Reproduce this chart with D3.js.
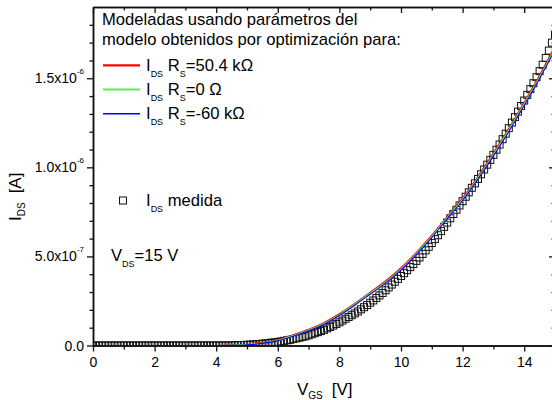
<!DOCTYPE html>
<html><head><meta charset="utf-8">
<script src="https://cdn.jsdelivr.net/npm/d3@7"></script>
<style>
body{margin:0;background:#fff}
svg{display:block}
text{font-family:Arial,"Liberation Sans",sans-serif;fill:#000}
</style></head><body>
<svg id="c" width="552" height="400"></svg>
<script>
// ---------- data (current in microamps, voltage in V) ----------
const vgsMeasured = [0,0.1,0.2,0.3,0.4,0.5,0.6,0.7,0.8,0.9,1,1.1,1.2,1.3,1.4,1.5,1.6,1.7,1.8,1.9,2,2.1,2.2,2.3,2.4,2.5,2.6,2.7,2.8,2.9,3,3.1,3.2,3.3,3.4,3.5,3.6,3.7,3.8,3.9,4,4.1,4.2,4.3,4.4,4.5,4.6,4.7,4.8,4.9,5,5.1,5.2,5.3,5.4,5.5,5.6,5.7,5.8,5.9,6,6.1,6.2,6.3,6.4,6.5,6.6,6.7,6.8,6.9,7,7.1,7.2,7.3,7.4,7.5,7.6,7.7,7.8,7.9,8,8.1,8.2,8.3,8.4,8.5,8.6,8.7,8.8,8.9,9,9.1,9.2,9.3,9.4,9.5,9.6,9.7,9.8,9.9,10,10.1,10.2,10.3,10.4,10.5,10.6,10.7,10.8,10.9,11,11.1,11.2,11.3,11.4,11.5,11.6,11.7,11.8,11.9,12,12.1,12.2,12.3,12.4,12.5,12.6,12.7,12.8,12.9,13,13.1,13.2,13.3,13.4,13.5,13.6,13.7,13.8,13.9,14,14.1,14.2,14.3,14.4,14.5,14.6,14.7,14.8,14.9,15];
const idsMeasured = [0,0,0,0,0,0,0,0,0,0,0,0,0,0,0,0,0,0,0,0,0,0,0,0,0,0,0,0,0,0,0,0,0,0,0,0,0,0,0,0,0,0,0,0,0,
 0.001,0.0015,0.002,0.0025,0.003,0.004,0.005,0.006,0.007,0.0085,0.010,0.012,0.014,0.016,0.018,0.020,0.023,0.026,0.029,0.032,0.036,0.040,0.044,0.048,0.052,
 0.057,0.063,0.069,0.075,0.081,0.088,0.096,0.104,0.112,0.121,0.130,0.140,0.150,0.160,0.170,0.180,0.191,0.203,0.215,0.227,
 0.240,0.253,0.267,0.281,0.295,0.310,0.326,0.342,0.358,0.374,0.390,0.406,0.423,0.440,0.457,0.475,0.494,0.514,0.534,0.554,
 0.575,0.597,0.619,0.642,0.666,0.690,0.714,0.738,0.762,0.786,0.810,0.835,0.860,0.885,0.910,0.935,0.961,0.988,1.015,1.042,
 1.070,1.099,1.128,1.158,1.189,1.220,1.251,1.282,1.313,1.344,1.375,1.407,1.439,1.472,1.506,1.540,1.576,1.614,1.655,1.700,1.745];

const vgsModel = [4.1,4.5,5,5.5,6,6.5,7,7.5,8,8.5,9,9.5,10,10.5,11,11.5,12,12.5,13,13.5,14,14.5,15];
const idsRs504k = [0,0.002,0.006,0.015,0.030,0.058,0.089,0.126,0.176,0.234,0.296,0.360,0.433,0.520,0.616,0.721,0.826,0.946,1.077,1.215,1.361,1.514,1.674];
const idsRs0    = [0,0.0015,0.005,0.013,0.028,0.055,0.086,0.122,0.172,0.230,0.292,0.355,0.428,0.515,0.611,0.716,0.820,0.940,1.070,1.208,1.354,1.506,1.665];
const idsRsm60k = [0,0.001,0.004,0.012,0.026,0.052,0.083,0.118,0.168,0.226,0.288,0.350,0.423,0.510,0.606,0.711,0.814,0.934,1.063,1.201,1.347,1.499,1.658];

const xMajorTicks = [0,2,4,6,8,10,12,14];
const xMinorTicks = [1,3,5,7,9,11,13];
const yMajorTicks = [0,0.5,1.0,1.5];
const yTickMantissa = ["0.0","5.0","1.0","1.5"];
const yTickExponent = [null,"-7","-6","-6"];
const yMinorTicks = [0.1,0.2,0.3,0.4,0.6,0.7,0.8,0.9,1.1,1.2,1.3,1.4,1.6,1.7,1.8];

const seriesNames = ["50.4 k\u03A9","0 \u03A9","-60 k\u03A9"];
const seriesColors = ["#ff0000","#55f055","#0000ff"];
const seriesWidths = [2,1.6,1.1];
const seriesData = [idsRs504k, idsRs0, idsRsm60k];

// ---------- layout ----------
const L=93, R=555, T=7, B=345.5;
const svg = d3.select("#c");
const x = d3.scaleLinear().domain([0,15]).range([L,R]);
const y = d3.scaleLinear().domain([0,1.9]).range([B,T]);

svg.append("defs").append("clipPath").attr("id","clip")
  .append("rect").attr("x",L).attr("y",T).attr("width",R-L).attr("height",B-T);

const plot = svg.append("g").attr("clip-path","url(#clip)");

// measured markers
const ms = 7;
plot.append("g").selectAll("rect").data(vgsMeasured.map((v,i)=>[v,idsMeasured[i]]))
  .join("rect")
  .attr("x",d=>x(d[0])-ms/2).attr("y",d=>y(d[1])-ms/2)
  .attr("width",ms).attr("height",ms)
  .attr("fill","none").attr("stroke","#111").attr("stroke-width",1);

// model lines
const line = d3.line().x(d=>x(d[0])).y(d=>y(d[1])).curve(d3.curveMonotoneX);
seriesData.forEach((s,k)=>{
  plot.append("path").datum(vgsModel.map((v,i)=>[v,s[i]]))
    .attr("d",line).attr("fill","none")
    .attr("stroke",seriesColors[k]).attr("stroke-width",seriesWidths[k]);
});

// ---------- axes ----------
function styleAxis(g){
  g.select(".domain").attr("stroke","#111").attr("stroke-width",1.5);
  g.selectAll(".tick line").attr("stroke","#111").attr("stroke-width",1.3);
  g.selectAll("text").style("font-family","Arial, 'Liberation Sans', sans-serif").style("font-size","14px").attr("fill","#000");
}
// bottom
svg.append("g").attr("transform",`translate(0,${B})`)
  .call(d3.axisBottom(x).tickValues(xMajorTicks).tickSize(6).tickPadding(6).tickFormat(d3.format("d")).tickSizeOuter(0))
  .call(styleAxis);
svg.append("g").attr("transform",`translate(0,${B})`)
  .call(d3.axisBottom(x).tickValues(xMinorTicks).tickSize(4).tickFormat("").tickSizeOuter(0))
  .call(styleAxis);
// top (ticks inward)
svg.append("g").attr("transform",`translate(0,${T})`)
  .call(d3.axisBottom(x).tickValues(xMajorTicks).tickSize(6).tickFormat("").tickSizeOuter(0))
  .call(styleAxis);
svg.append("g").attr("transform",`translate(0,${T})`)
  .call(d3.axisBottom(x).tickValues(xMinorTicks).tickSize(3.5).tickFormat("").tickSizeOuter(0))
  .call(styleAxis);
// left
svg.append("g").attr("transform",`translate(${L},0)`)
  .call(d3.axisLeft(y).tickValues(yMajorTicks).tickSize(6).tickFormat("").tickSizeOuter(0))
  .call(styleAxis);
svg.append("g").attr("transform",`translate(${L},0)`)
  .call(d3.axisLeft(y).tickValues(yMinorTicks).tickSize(3.5).tickFormat("").tickSizeOuter(0))
  .call(styleAxis);
// right (ticks inward)
svg.append("g").attr("transform",`translate(${R},0)`)
  .call(d3.axisLeft(y).tickValues(yMajorTicks).tickSize(6).tickFormat("").tickSizeOuter(0))
  .call(styleAxis);
svg.append("g").attr("transform",`translate(${R},0)`)
  .call(d3.axisLeft(y).tickValues(yMinorTicks).tickSize(3.5).tickFormat("").tickSizeOuter(0))
  .call(styleAxis);

// y tick labels with exponents
yMajorTicks.forEach((v,i)=>{
  const t = svg.append("text").attr("x",84).attr("y",y(v)+5)
    .attr("text-anchor","end").style("font-size","14px");
  if(yTickExponent[i]){
    t.append("tspan").text(yTickMantissa[i]+"x10");
    t.append("tspan").attr("dy",-9).style("font-size","8px").text(yTickExponent[i]);
  } else {
    t.append("tspan").text(yTickMantissa[i]);
  }
});

// axis titles
const xt = svg.append("text").attr("x",297).attr("y",395).style("font-size","17px");
xt.append("tspan").text("V");
xt.append("tspan").attr("dy",4).style("font-size","10px").text("GS");
xt.append("tspan").attr("dy",-4).attr("dx",9).text("[V]");

const yt = svg.append("text").attr("transform","translate(21,221) rotate(-90)").style("font-size","17px");
yt.append("tspan").text("I");
yt.append("tspan").attr("dy",4).style("font-size","10px").text("DS");
yt.append("tspan").attr("dy",-4).attr("dx",9).text("[A]");

// legend / annotations
const FS = "16.6px";
svg.append("text").attr("x",102).attr("y",25).style("font-size",FS).text("Modeladas usando par\u00e1metros del");
svg.append("text").attr("x",102).attr("y",44.5).style("font-size",FS).text("modelo obtenidos por optimizaci\u00f3n para:");

const legY = [65.3, 89.5, 113.8];
seriesNames.forEach((n,k)=>{
  svg.append("line").attr("x1",103).attr("x2",140).attr("y1",legY[k]).attr("y2",legY[k])
    .attr("stroke",seriesColors[k]).attr("stroke-width",seriesWidths[k]+0.3);
  const t = svg.append("text").attr("x",146).attr("y",legY[k]+5.5).style("font-size",FS);
  t.append("tspan").text("I");
  t.append("tspan").attr("dy",6).style("font-size","9px").text("DS");
  t.append("tspan").attr("dy",-6).text(" R");
  t.append("tspan").attr("dy",6).style("font-size","9px").text("S");
  t.append("tspan").attr("dy",-6).text("="+n);
});

svg.append("rect").attr("x",119.5).attr("y",197).attr("width",7).attr("height",7)
  .attr("fill","none").attr("stroke","#111").attr("stroke-width",1);
const mt = svg.append("text").attr("x",146).attr("y",206).style("font-size",FS);
mt.append("tspan").text("I");
mt.append("tspan").attr("dy",6).style("font-size","9px").text("DS");
mt.append("tspan").attr("dy",-6).text(" medida");

const vt = svg.append("text").attr("x",111).attr("y",261).style("font-size",FS);
vt.append("tspan").text("V");
vt.append("tspan").attr("dy",6).style("font-size","9px").text("DS");
vt.append("tspan").attr("dy",-6).text("=15 V");
</script>
</body></html>
